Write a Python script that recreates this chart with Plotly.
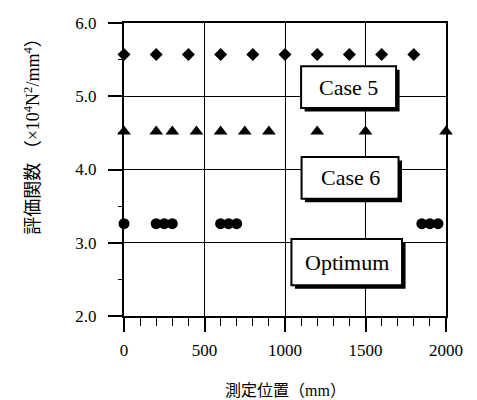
import plotly.graph_objects as go

# ---- data ----
case5_x = [0, 200, 400, 600, 800, 1000, 1200, 1400, 1600, 1800]
case5_y = [5.57] * len(case5_x)
case6_x = [0, 200, 300, 450, 600, 750, 900, 1200, 1500, 2000]
case6_y = [4.52] * len(case6_x)
opt_x = [0, 200, 250, 300, 600, 650, 700, 1850, 1900, 1950]
opt_y = [3.26] * len(opt_x)

x_ticks = [0, 500, 1000, 1500, 2000]
y_ticks = [2.0, 3.0, 4.0, 5.0, 6.0]

labels = ["Case 5", "Case 6", "Optimum"]
# label boxes in data coordinates: (x0, x1, y0, y1)
label_boxes = [(1100, 1690, 4.84, 5.41), (1103, 1705, 3.60, 4.17), (1040, 1727, 2.42, 3.05)]

SERIF = "Liberation Serif, Noto Sans CJK JP"

fig = go.Figure()
fig.add_trace(go.Scatter(x=case5_x, y=case5_y, mode="markers", cliponaxis=False,
                         marker=dict(symbol="diamond", size=10, color="black")))
fig.add_trace(go.Scatter(x=case6_x, y=case6_y, mode="markers", cliponaxis=False,
                         marker=dict(symbol="triangle-up", size=12, color="black")))
fig.add_trace(go.Scatter(x=opt_x, y=opt_y, mode="markers", cliponaxis=False,
                         marker=dict(symbol="circle", size=11, color="black")))

px_x = 500 / 80.5
px_y = 1 / 73.1
shapes = []
annotations = []
for (x0, x1, y0, y1), txt in zip(label_boxes, labels):
    shapes.append(dict(type="rect", xref="x", yref="y", x0=x0 + 3.5 * px_x, x1=x1 + 3.5 * px_x,
                       y0=y0 - 3.5 * px_y, y1=y1 - 3.5 * px_y, fillcolor="black",
                       line=dict(width=0), layer="above"))
    shapes.append(dict(type="rect", xref="x", yref="y", x0=x0, x1=x1, y0=y0, y1=y1,
                       fillcolor="white", line=dict(color="black", width=2), layer="above"))
    annotations.append(dict(x=(x0 + x1) / 2, y=(y0 + y1) / 2, xref="x", yref="y", text=txt,
                            showarrow=False, font=dict(family=SERIF, size=22, color="black")))

annotations.append(dict(xref="paper", yref="paper", x=0.5, y=-0.255, text="測定位置（mm）",
                        showarrow=False, xanchor="center", yanchor="middle",
                        font=dict(family=SERIF, size=16, color="black")))
annotations.append(dict(xref="paper", yref="paper", x=-0.283, y=0.628,
                        text="評価関数 （×10<sup>4</sup>N<sup>2</sup>/mm<sup>4</sup>）",
                        textangle=-90, showarrow=False, xanchor="center", yanchor="middle",
                        font=dict(family=SERIF, size=18, color="black")))

fig.update_layout(
    width=477, height=400,
    margin=dict(l=124, r=31, t=23, b=84),
    paper_bgcolor="white", plot_bgcolor="white",
    showlegend=False,
    shapes=shapes, annotations=annotations,
    font=dict(family=SERIF, color="black"),
)
fig.update_xaxes(range=[0, 2000], tickvals=x_ticks, ticktext=[str(v) for v in x_ticks],
                 showgrid=True, gridcolor="black", gridwidth=1.2,
                 showline=True, linecolor="black", linewidth=2, mirror=True,
                 ticks="outside", ticklen=14, tickwidth=1.5, tickcolor="black",
                 minor=dict(dtick=100, ticks="outside", ticklen=8, tickwidth=1, tickcolor="black", showgrid=False),
                 tickfont=dict(family=SERIF, size=17, color="black"), zeroline=False,
                 ticklabelstandoff=4)
fig.update_yaxes(range=[2, 6], tickvals=y_ticks, ticktext=["%.1f" % v for v in y_ticks],
                 showgrid=True, gridcolor="black", gridwidth=1.2,
                 showline=True, linecolor="black", linewidth=2, mirror=True,
                 ticks="outside", ticklen=14, tickwidth=1.5, tickcolor="black",
                 minor=dict(dtick=0.5, ticks="outside", ticklen=4, tickwidth=1, tickcolor="black", showgrid=False),
                 tickfont=dict(family=SERIF, size=17, color="black"), zeroline=False,
                 ticklabelstandoff=8)

fig.write_html("out.html")
